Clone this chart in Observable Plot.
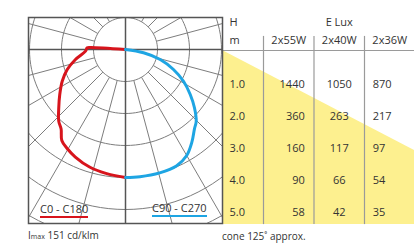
<!DOCTYPE html>
<html>
<head>
<meta charset="utf-8">
<script src="https://cdn.jsdelivr.net/npm/d3@7"></script>
<script src="https://cdn.jsdelivr.net/npm/@observablehq/plot@0.6"></script>
<style>
  html, body { margin: 0; padding: 0; background: #fff; }
  #wrap { position: relative; width: 414px; height: 244px; font-family: "Open Sans", sans-serif; color: #333; overflow: hidden; }
  #wrap > div.layer { position: absolute; top: 0; }
  .leg { position: absolute; font-size: 11px; line-height: 11px; padding-bottom: 1.5px; border-bottom: 2.5px solid; white-space: nowrap; color: #333; }
  .cap { position: absolute; font-size: 10px; line-height: 10px; white-space: nowrap; color: #333; }
  .cap small { font-size: 7px; }
</style>
</head>
<body>
<div id="wrap">
  <div id="cone" class="layer" style="left:222px"></div>
  <div id="table" class="layer" style="left:222px"></div>
  <div id="polar" class="layer" style="left:0"></div>
  <div class="leg" style="left:40px;top:203px;border-color:#d7141c">C0 - C180</div>
  <div class="leg" style="left:152px;top:202px;border-color:#1ea5e3">C90 - C270</div>
  <div class="cap" style="left:28px;top:230px">I<small>max</small> 151 cd/klm</div>
  <div class="cap" style="left:222px;top:231px">cone 125˚ approx.</div>
</div>
<script>
// ---- data ----
const imax = 151;            // cd/klm
const coneAngle = 125;       // degrees
// C0 - C180 plane (left half): angle from nadir (deg), intensity (cd/klm)
const c0Angles = [0, 9, 17, 25, 30.5, 35, 39, 43, 49, 55.6, 63.4, 71, 78.7, 87.6, 92.5, 93.3, 93];
const c0Values = [151, 148, 145, 140, 135.6, 131, 120.7, 115.5, 104.3, 94, 83.5, 72.7, 60.2, 47.2, 45.2, 41.4, 0];
// C90 - C270 plane (right half)
const c90Angles = [0, 6.5, 15.5, 23.6, 30, 35.6, 41, 44.6, 49.8, 55.2, 61.3, 67.4, 73.9, 79.6, 90];
const c90Values = [151, 151, 151, 150, 144.4, 134.5, 124, 118.8, 106.5, 93, 78, 61.3, 42.6, 21.6, 0];

// illuminance table
const heights = [1, 2, 3, 4, 5];            // H (m)
const lamps = ["2x55W", "2x40W", "2x36W"];
const lux55 = [1440, 360, 160, 90, 58];
const lux40 = [1050, 263, 117, 66, 42];
const lux36 = [870, 217, 97, 54, 35];
const luxCols = [lux55, lux40, lux36];

// ---- polar diagram ----
const rad = Math.PI / 180;
const ringStep = imax / 4;                 // intensity per grid ring
const pxPerCd = 32 / ringStep;
const rings = d3.range(1, 8);
const spokes = d3.range(0, 360, 15).filter(a => a % 90 !== 0);
const ringPts = rings.flatMap(k => d3.range(0, 361, 3).map(a => ({k, x: k * ringStep * Math.sin(a * rad), y: k * ringStep * Math.cos(a * rad)})));
const c0 = c0Angles.map((a, i) => ({x: -c0Values[i] * Math.sin(a * rad), y: -c0Values[i] * Math.cos(a * rad)}));
const c90 = c90Angles.map((a, i) => ({x: c90Values[i] * Math.sin(a * rad), y: -c90Values[i] * Math.cos(a * rad)}));

const polar = Plot.plot({
  width: 223, height: 228,
  marginLeft: 28, marginRight: 1, marginTop: 17, marginBottom: 5,
  x: {domain: [-97 / pxPerCd, 97 / pxPerCd], axis: null},
  y: {domain: [-174 / pxPerCd, 32 / pxPerCd], axis: null},
  style: {background: "transparent", overflow: "visible"},
  marks: [
    Plot.line(ringPts, {x: "x", y: "y", z: "k", stroke: "#7d7d7d", strokeWidth: 1, clip: true}),
    Plot.link(spokes, {
      x1: a => ringStep * Math.sin(a * rad), y1: a => ringStep * Math.cos(a * rad),
      x2: a => 8 * ringStep * Math.sin(a * rad), y2: a => 8 * ringStep * Math.cos(a * rad),
      stroke: "#7d7d7d", strokeWidth: 1, clip: true
    }),
    Plot.ruleX([0], {stroke: "#555", strokeWidth: 1.5}),
    Plot.ruleY([0], {stroke: "#555", strokeWidth: 1.5}),
    Plot.frame({stroke: "#555", strokeWidth: 1.5}),
    Plot.line(c0, {x: "x", y: "y", stroke: "#d7141c", strokeWidth: 3, curve: "catmull-rom", strokeLinejoin: "round", strokeLinecap: "round"}),
    Plot.line(c90, {x: "x", y: "y", stroke: "#1ea5e3", strokeWidth: 3, curve: "catmull-rom", strokeLinejoin: "round", strokeLinecap: "round"})
  ]
});
document.getElementById("polar").append(polar);

// ---- cone (yellow) ----
const yTop = -50 / 32, yBottom = 178 / 32, tableBottom = 5.44;
const halfCone = coneAngle / 2 * rad;
const coneEdge = [0, 6].map(x => ({x, top: x / Math.tan(halfCone)}));
const cone = Plot.plot({
  width: 192, height: 228, margin: 0,
  x: {domain: [0, 192 / 32], axis: null},
  y: {domain: [yTop, yBottom], reverse: true, axis: null},
  style: {background: "transparent"},
  marks: [
    Plot.area(coneEdge, {x1: "x", y1: "top", y2: tableBottom, fill: "#fdf08f"})
  ]
});
document.getElementById("cone").append(cone);

// ---- table ----
const colW = 50.5, hColW = 41;
const anchors = ["end", "middle", "start"];
const offsets = [16, 0, -17];
const table = Plot.plot({
  width: 192, height: 228, margin: 0,
  x: {domain: [-hColW / colW, (192 - hColW) / colW], axis: null},
  y: {domain: [yTop, yBottom], reverse: true, axis: null},
  style: {background: "transparent", fontFamily: "Open Sans", fontSize: "11px", overflow: "visible"},
  marks: [
    Plot.ruleY([0], {stroke: "#9a9a9a", strokeWidth: 1.2}),
    Plot.ruleX(d3.range(lamps.length), {y1: -0.44, y2: tableBottom, stroke: "#9a9a9a", strokeWidth: 1.2}),
    Plot.text(["H"], {frameAnchor: "left", dx: 7, y: -0.87, textAnchor: "start", fill: "#333"}),
    Plot.text(["m"], {frameAnchor: "left", dx: 7, y: -0.32, textAnchor: "start", fill: "#333"}),
    Plot.text(["E Lux"], {x: lamps.length / 2, y: -0.87, fill: "#333"}),
    Plot.text(lamps, {x: (d, i) => i + 0.5, y: -0.32, text: d => d, fill: "#333"}),
    Plot.text(heights, {frameAnchor: "left", dx: 7, y: d => d, dy: 1.5, text: d => d.toFixed(1), textAnchor: "start", fill: "#333"}),
    ...luxCols.map((col, j) => Plot.text(heights, {
      x: j + 0.5, y: d => d, dy: 1.5, dx: offsets[j], textAnchor: anchors[j],
      text: (d, i) => String(col[i]), fill: "#333"
    }))
  ]
});
document.getElementById("table").append(table);
</script>
</body>
</html>
